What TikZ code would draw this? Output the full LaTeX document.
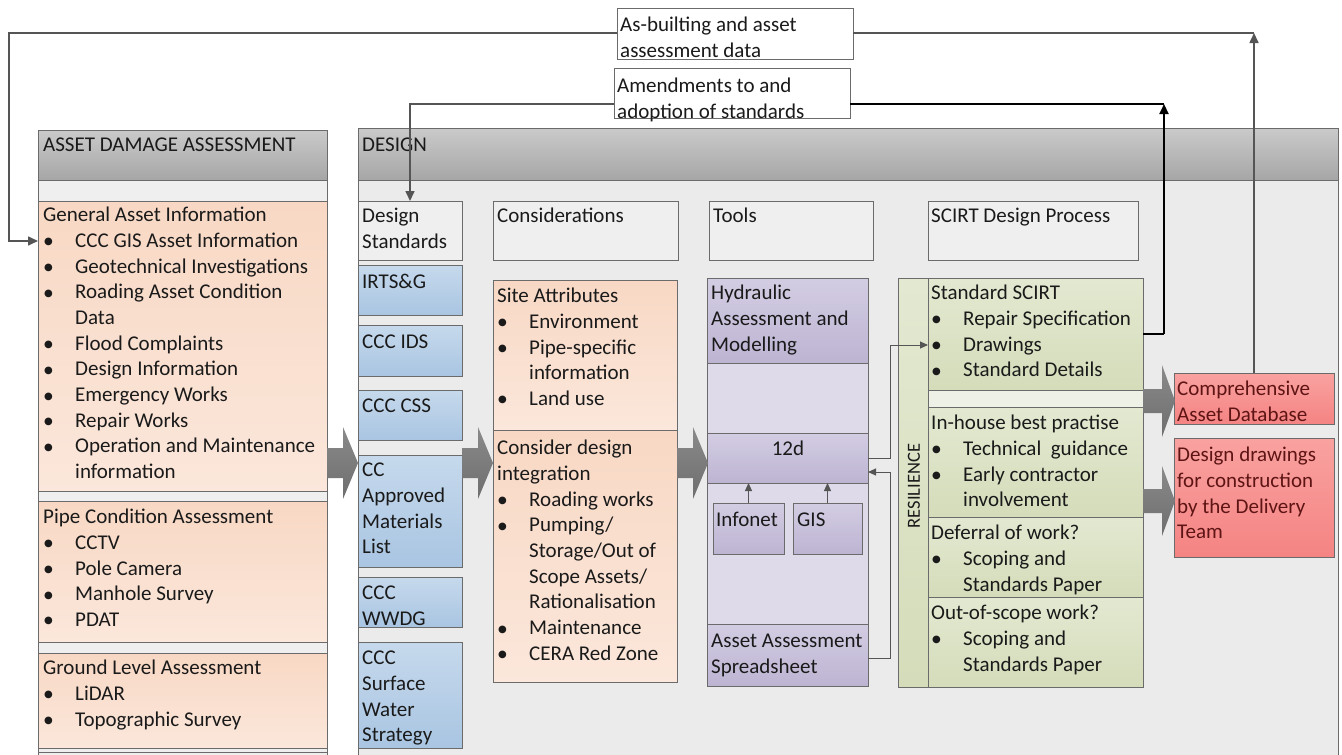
\documentclass[tikz,border=0pt]{standalone}
\usepackage{fontspec}
\setmainfont{Carlito}
\newfontfamily\symf{DejaVu Sans}
\usetikzlibrary{arrows.meta,fit}
\definecolor{bordc}{HTML}{6B6B6B}
\definecolor{hdrT}{HTML}{CACACA}
\definecolor{hdrB}{HTML}{A6A6A6}
\definecolor{colbg}{HTML}{EFEFEF}
\definecolor{dbg}{HTML}{EBEBEB}
\definecolor{peachT}{HTML}{F8D8C4}
\definecolor{peachB}{HTML}{FBE7DB}
\definecolor{blueT}{HTML}{C6D9EC}
\definecolor{blueB}{HTML}{A9C5E2}
\definecolor{purT}{HTML}{D3CDE3}
\definecolor{purB}{HTML}{BDB4D2}
\definecolor{purL}{HTML}{DEDAEA}
\definecolor{grnT}{HTML}{E3E9D1}
\definecolor{grnB}{HTML}{D4DCBA}
\definecolor{grnS}{HTML}{EEF1E5}
\definecolor{redT}{HTML}{F9A2A0}
\definecolor{redB}{HTML}{F48483}
\definecolor{redtxt}{HTML}{5E1414}
\definecolor{lnc}{HTML}{555555}
\definecolor{txtc}{HTML}{1A1A1A}
\definecolor{arrT}{HTML}{8A8A8A}
\definecolor{arrB}{HTML}{6E6E6E}
\newcommand{\mainfs}{\fontsize{21}{25.7}\selectfont}
\newcommand{\bu}{\makebox[32pt][l]{\hspace{1pt}\raisebox{2.5pt}{\symf\fontsize{10}{10}\selectfont ●}}}
\newcommand{\bi}[1]{\bu#1}
\newcommand{\ci}[1]{\hspace*{32pt}#1}
\tikzset{
  bdr/.style={draw=bordc, line width=1pt},
  fbox/.style={inner sep=0pt, outer sep=0pt, bdr},
  hdr/.style={fbox, top color=hdrT, bottom color=hdrB},
  plain/.style={fbox, fill=colbg},
  peach/.style={fbox, top color=peachT, bottom color=peachB},
  blue/.style={fbox, top color=blueT, bottom color=blueB},
  purd/.style={fbox, top color=purT, bottom color=purB},
  purl/.style={fbox, fill=purL},
  grn/.style={fbox, top color=grnT, bottom color=grnB},
  grns/.style={fbox, fill=grnS},
  redbox/.style={fbox, top color=redT, bottom color=redB},
  txt/.style={anchor=north west, inner sep=0pt, align=left, font=\mainfs, text=txtc},
  ln/.style={draw=lnc, line width=1.6pt},
  lnk/.style={draw=black, line width=2pt},
  lnt/.style={draw=lnc, line width=1pt},
  tip/.style={-{Triangle[length=10pt,width=9pt]}},
  tips/.style={-{Triangle[length=8pt,width=7pt]}},
  barrow/.style={draw=none, top color=arrT, bottom color=arrB},
}
\newcommand{\blockarrow}[6]{% x0, xh, x1, yc, hs, hh
  \path[barrow] (#1,#4-#5) -- (#2,#4-#5) -- (#2,#4-#6) -- (#3,#4) -- (#2,#4+#6) -- (#2,#4+#5) -- (#1,#4+#5) -- cycle;}
\begin{document}
\begin{tikzpicture}[x=1pt,y=-1pt]
\useasboundingbox (0,0) rectangle (1342,755);
\clip (0,0) rectangle (1342,755);
\fill[white] (0,0) rectangle (1342,755);

% ---------- ASSET DAMAGE ASSESSMENT column ----------
\node[plain, fit={(38,180) (327,770)}] (adacol) {};
\node[hdr, fit={(38,130) (327,180)}] (adahdr) {};
\node[txt] (adahdrt) at (43,133.5) {\strut ASSET DAMAGE ASSESSMENT};
\node[peach, fit={(38,201) (327,491)}] (gai) {};
\node[peach, fit={(38,501) (327,642)}] (pca) {};
\node[peach, fit={(38,653) (327,748)}] (gla) {};
\node[plain, fit={(38,752) (327,780)}] (nextbox) {};
\node[txt] (gait) at (43,203.5) {\strut General Asset Information\\
\bi{CCC GIS Asset Information}\\
\bi{Geotechnical Investigations}\\
\bi{Roading Asset Condition}\\
\ci{Data}\\
\bi{Flood Complaints}\\
\bi{Design Information}\\
\bi{Emergency Works}\\
\bi{Repair Works}\\
\bi{Operation and Maintenance}\\
\ci{information}};
\node[txt] (pcat) at (43,505.5) {\strut Pipe Condition Assessment\\
\bi{CCTV}\\
\bi{Pole Camera}\\
\bi{Manhole Survey}\\
\bi{PDAT}};
\node[txt] (glat) at (43,656.5) {\strut Ground Level Assessment\\
\bi{LiDAR}\\
\bi{Topographic Survey}};

% ---------- DESIGN ----------
\node[fbox, fill=dbg, fit={(358,180) (1338,770)}] (dbody) {};
\node[hdr, fit={(358,128) (1338,180)}] (dhdr) {};
\node[txt] (dhdrt) at (362,133.5) {\strut DESIGN};

% column headers
\node[plain, fit={(358,201) (462,260)}] (ds) {};
\node[txt] (dst) at (362,204.5) {\strut Design\\Standards};
\node[plain, fit={(493,201) (678,260)}] (conh) {};
\node[txt] (conht) at (497,204.5) {\strut Considerations};
\node[plain, fit={(709,201) (873,260)}] (toolh) {};
\node[txt] (toolht) at (713,204.5) {\strut Tools};
\node[plain, fit={(928,201) (1138,260)}] (scih) {};
\node[txt] (sciht) at (931,204.5) {\strut SCIRT Design Process};

% design standards
\node[blue, fit={(358,265) (462,315)}] (irts) {};
\node[txt] (irtst) at (362,270.5) {\strut IRTS\&G};
\node[blue, fit={(358,325) (462,376)}] (ids) {};
\node[txt] (idst) at (362,330.5) {\strut CCC IDS};
\node[blue, fit={(358,390) (462,440)}] (css) {};
\node[txt] (csst) at (362,394.5) {\strut CCC CSS};
\node[blue, fit={(358,455) (462,567)}] (aml) {};
\node[txt] (amlt) at (362,458.5) {\strut CC\\Approved\\Materials\\List};
\node[blue, fit={(358,577) (462,627)}] (wwdg) {};
\node[txt] (wwdgt) at (362,581.5) {\strut CCC\\WWDG};
\node[blue, fit={(358,642) (462,748)}] (sws) {};
\node[txt] (swst) at (362,646.5) {\strut CCC\\Surface\\Water\\Strategy};

% considerations
\node[peach, fit={(493,280) (677,430)}] (site) {};
\node[txt] (sitet) at (497,284.5) {\strut Site Attributes\\
\bi{Environment}\\
\bi{Pipe-specific}\\
\ci{information}\\
\bi{Land use}};
\node[peach, fit={(493,430) (677,682)}] (cdi) {};
\node[txt] (cdit) at (497,436.5) {\strut Consider design\\
integration\\
\bi{Roading works}\\
\bi{Pumping/}\\
\ci{Storage/Out of}\\
\ci{Scope Assets/}\\
\ci{Rationalisation}\\
\bi{Maintenance}\\
\bi{CERA Red Zone}};

% tools
\node[purl, fit={(707,278) (868,686)}] (tools) {};
\node[purd, fit={(707,278) (868,363)}] (hyd) {};
\node[txt] (hydt) at (711,281.5) {\strut Hydraulic\\Assessment and\\Modelling};
\node[purd, fit={(707,433) (868,483)}] (twelved) {};
\node[txt, anchor=north] (twelvedt) at (788,437.5) {\strut 12d};
\node[purd, fit={(713,503) (784,554)}] (infonet) {};
\node[txt] (infonett) at (716,508.5) {\strut Infonet};
\node[purd, fit={(793,503) (862,554)}] (gis) {};
\node[txt] (gist) at (797,508.5) {\strut GIS};
\node[purd, fit={(707,624) (868,686)}] (aas) {};
\node[txt] (aast) at (711,629.5) {\strut Asset Assessment\\Spreadsheet};

% SCIRT design process
\node[grn, fit={(898,278) (928,687)}] (res) {};
\node[rotate=90, inner sep=0pt, font=\fontsize{18.5}{20}\selectfont, text=txtc] (rest) at (914,486) {RESILIENCE};
\node[grn, fit={(928,278) (1143,390)}] (std) {};
\node[grns, fit={(928,390) (1143,407)}] (sep) {};
\node[grn, fit={(928,407) (1143,517)}] (inh) {};
\node[grn, fit={(928,517) (1143,597)}] (defw) {};
\node[grn, fit={(928,597) (1143,687)}] (oos) {};
\node[txt] (stdt) at (931,281.5) {\strut Standard SCIRT\\
\bi{Repair Specification}\\
\bi{Drawings}\\
\bi{Standard Details}};
\node[txt] (inht) at (931,411.5) {\strut In-house best practise\\
\bi{Technical\ \ guidance}\\
\bi{Early contractor}\\
\ci{involvement}};
\node[txt] (defwt) at (931,521.5) {\strut Deferral of work?\\
\bi{Scoping and}\\
\ci{Standards Paper}};
\node[txt] (oost) at (931,601.5) {\strut Out-of-scope work?\\
\bi{Scoping and}\\
\ci{Standards Paper}};

% outputs
\node[redbox, fit={(1174,373) (1334,424)}] (db) {};
\node[txt, text=redtxt] (dbt) at (1177,377.5) {\strut Comprehensive\\Asset Database};
\node[redbox, fit={(1174,438) (1334,557)}] (dd) {};
\node[txt, text=redtxt] (ddt) at (1177,443.5) {\strut Design drawings\\for construction\\by the Delivery\\Team};

% block arrows
\blockarrow{327}{343}{358}{463}{15}{36}
\blockarrow{462}{478}{493}{463}{15}{36}
\blockarrow{677}{693}{708}{463}{15}{36}
\blockarrow{1143}{1162}{1175}{401}{12}{36}
\blockarrow{1143}{1162}{1175}{501}{12}{35}

% label boxes on top
\node[fbox, fill=white, fit={(617,8) (853,59)}] (asb) {};
\node[txt] (asbt) at (620,13.5) {\strut As-builting and asset\\assessment data};
\node[fbox, fill=white, fit={(614,68) (850,118)}] (amd) {};
\node[txt] (amdt) at (617,74.5) {\strut Amendments to and\\adoption of standards};

% connectors
\coordinate (ytop) at (0,33);
\coordinate (yamd) at (0,104);
\coordinate (lft) at (9,241);
\draw[ln, tip] (db.north) -- (db.north |- ytop);
\draw[ln] (db.north |- ytop) -- (asb.east |- ytop);
\draw[ln, tip] (asb.west |- ytop) -| (lft) -- (gai.west |- lft);

\coordinate (ascirt) at (1164,334);
\draw[lnk] (std.east |- ascirt) -- (ascirt);
\draw[lnk, tip] (ascirt) -- (ascirt |- yamd);
\draw[lnk] (ascirt |- yamd) -- (amd.east |- yamd);
\draw[ln, tip] (amd.west |- yamd) -| (ds.north);

\coordinate (cx) at (890,0);
\draw[lnt, tips] (twelved.east |- 0,458) -- (cx |- 0,458) -- (cx |- 0,345) -- (std.west |- 0,345);
\draw[lnt, tips] (aas.east |- 0,658) -- (cx |- 0,658) -- (cx |- 0,472) -- (twelved.east |- 0,472);
\draw[lnt, tips] (infonet.north) -- (infonet.north |- twelved.south);
\draw[lnt, tips] (gis.north) -- (gis.north |- twelved.south);
\end{tikzpicture}
\end{document}
